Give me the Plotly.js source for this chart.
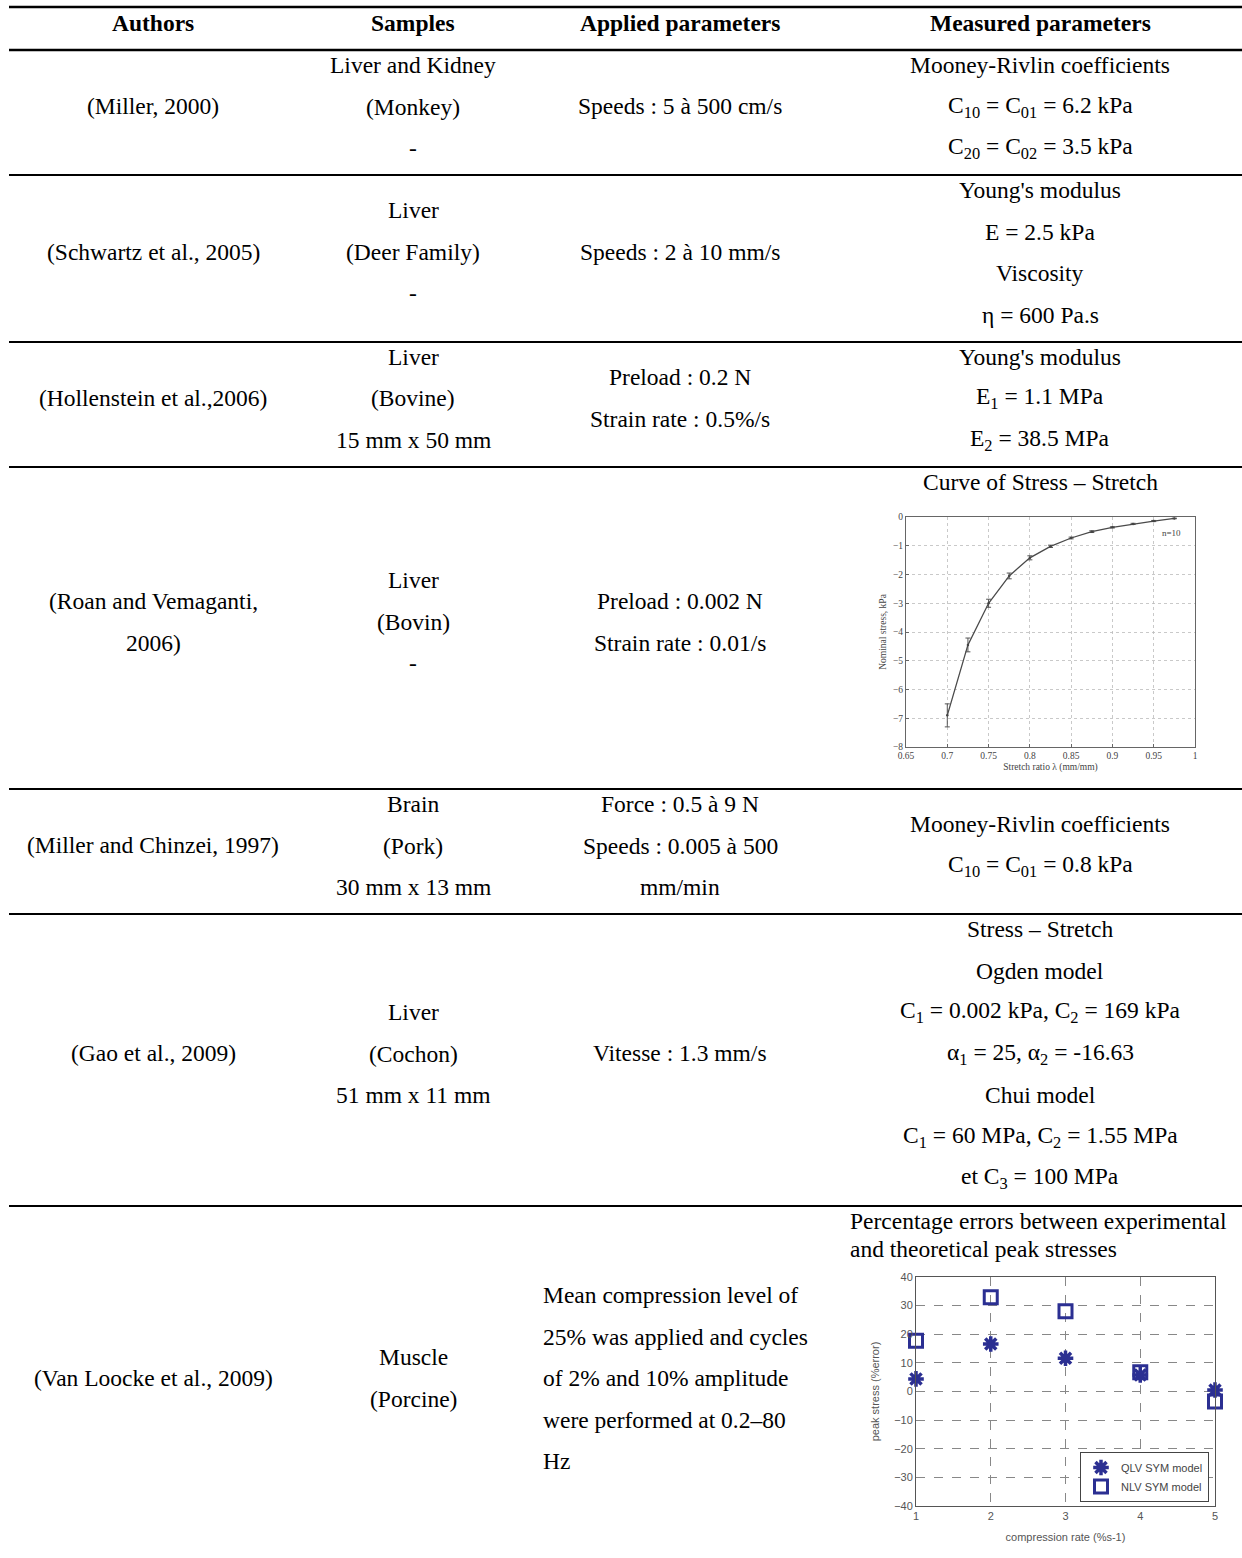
<!DOCTYPE html>
<html>
<head>
<meta charset="utf-8">
<script src="https://cdn.plot.ly/plotly-3.0.1.min.js"></script>
<style>html,body{margin:0;padding:0;background:#fff;}#chart{width:1242px;height:1558px;}</style>
</head>
<body>
<div id="chart"></div>
<script>
// ---------------- DATA ----------------
const headers = ["Authors", "Samples", "Applied parameters", "Measured parameters"];

const authors = [
  ["(Miller, 2000)"],
  ["(Schwartz et al., 2005)"],
  ["(Hollenstein et al.,2006)"],
  ["(Roan and Vemaganti,", "2006)"],
  ["(Miller and Chinzei, 1997)"],
  ["(Gao et al., 2009)"],
  ["(Van Loocke et al., 2009)"]
];
const samples = [
  ["Liver and Kidney", "(Monkey)", "-"],
  ["Liver", "(Deer Family)", "-"],
  ["Liver", "(Bovine)", "15 mm x 50 mm"],
  ["Liver", "(Bovin)", "-"],
  ["Brain", "(Pork)", "30 mm x 13 mm"],
  ["Liver", "(Cochon)", "51 mm x 11 mm"],
  ["Muscle", "(Porcine)"]
];
const applied = [
  ["Speeds : 5 à 500 cm/s"],
  ["Speeds : 2 à 10 mm/s"],
  ["Preload : 0.2 N", "Strain rate : 0.5%/s"],
  ["Preload : 0.002 N", "Strain rate : 0.01/s"],
  ["Force : 0.5 à 9 N", "Speeds : 0.005 à 500", "mm/min"],
  ["Vitesse : 1.3 mm/s"],
  ["Mean compression level of", "25% was applied and cycles", "of 2% and 10% amplitude", "were performed at 0.2–80", "Hz"]
];
const measured = [
  ["Mooney-Rivlin coefficients", "C<sub>10</sub> = C<sub>01</sub> = 6.2 kPa", "C<sub>20</sub> = C<sub>02</sub> = 3.5 kPa"],
  ["Young's modulus", "E = 2.5 kPa", "Viscosity", "η = 600 Pa.s"],
  ["Young's modulus", "E<sub>1</sub> = 1.1 MPa", "E<sub>2</sub> = 38.5 MPa"],
  ["Curve of Stress – Stretch"],
  ["Mooney-Rivlin coefficients", "C<sub>10</sub> = C<sub>01</sub> = 0.8 kPa"],
  ["Stress – Stretch", "Ogden model", "C<sub>1</sub> = 0.002 kPa, C<sub>2</sub> = 169 kPa", "α<sub>1</sub> = 25, α<sub>2</sub> = -16.63", "Chui model", "C<sub>1</sub> = 60 MPa, C<sub>2</sub> = 1.55 MPa", "et C<sub>3</sub> = 100 MPa"],
  ["Percentage errors between experimental", "and theoretical peak stresses"]
];

// Stress-stretch curve (Roan and Vemaganti, 2006)
const stretchRatio = [0.7, 0.725, 0.75, 0.775, 0.8, 0.825, 0.85, 0.875, 0.9, 0.925, 0.95, 0.975];
const nominalStress = [-6.9, -4.45, -3.0, -2.05, -1.42, -1.02, -0.73, -0.51, -0.36, -0.24, -0.14, -0.05];
const stressErr = [0.4, 0.24, 0.14, 0.1, 0.07, 0.04, 0.03, 0.03, 0.02, 0.02, 0.02, 0.01];
const curveNote = "n=10";

// Peak stress errors (Van Loocke et al., 2009)
const compressionRate = [1, 2, 3, 4, 5];
const qlvError = [4.4, 16.6, 11.6, 5.8, 0.5];
const nlvError = [17.7, 32.9, 28.0, 6.7, -3.5];
const seriesNames = ["QLV SYM model", "NLV SYM model"];

// ---------------- LAYOUT ----------------
const W = 1242, H = 1558;
const px = x => x / W;
const py = y => 1 - y / H;
const serif = "Liberation Serif, Times New Roman, serif";
const sans = "Liberation Sans, Arial, sans-serif";
const FS = 23.5;
const LH = 41.5;

const colX = [153, 413, 680, 1040];
// first-line y for each cell: [authors, samples, applied, measured]
const firstY = [
  [106, 65, 106, 65],
  [252, 210, 252, 190],
  [398, 357, 377, 357],
  [601, 580, 601, 482],
  [845, 804, 804, 824],
  [1053, 1012, 1053, 929],
  [1378, 1357, 1295, 1221]
];

const annotations = [];
headers.forEach((h, i) => {
  annotations.push({xref: 'paper', yref: 'paper', x: px(colX[i]), y: py(23), text: '<b>' + h + '</b>',
    showarrow: false, xanchor: 'center', yanchor: 'middle', font: {family: serif, size: FS, color: '#000'}});
});
const cols = [authors, samples, applied, measured];
cols.forEach((col, c) => {
  col.forEach((lines, r) => {
    lines.forEach((t, k) => {
      let x = colX[c], xa = 'center', lh = LH;
      if (r === 6 && c === 2) { x = 541; xa = 'left'; }
      if (r === 6 && c === 3) { x = 848; xa = 'left'; lh = 27.5; }
      annotations.push({xref: 'paper', yref: 'paper', x: px(x), y: py(firstY[r][c] + k * lh), text: t,
        showarrow: false, xanchor: xa, yanchor: 'middle', font: {family: serif, size: FS, color: '#000'}});
    });
  });
});
annotations.push({xref: 'x', yref: 'y', x: 0.972, y: -0.55, text: curveNote, showarrow: false,
  font: {family: serif, size: 9, color: '#444'}});

const ruleY = [[7, 2.5], [50, 2.5], [175, 2], [342, 2], [467, 2], [789, 2], [914, 2], [1206, 2]];
const shapes = ruleY.map(([y, w]) => ({type: 'line', xref: 'paper', yref: 'paper',
  x0: px(9), x1: 1, y0: py(y), y1: py(y), line: {color: '#000', width: w}}));

const traces = [
  {x: stretchRatio, y: nominalStress, xaxis: 'x', yaxis: 'y', type: 'scatter', mode: 'lines+markers',
   line: {color: '#4a4a4a', width: 1.3}, marker: {size: 2.5, color: '#444'}, showlegend: false,
   error_y: {type: 'data', array: stressErr, visible: true, color: '#555', thickness: 1, width: 2.5}},
  {x: compressionRate, y: qlvError, xaxis: 'x2', yaxis: 'y2', type: 'scatter', mode: 'markers', name: seriesNames[0],
   cliponaxis: false,
   marker: {symbol: 'asterisk-open', size: 13, color: '#2b2f92', line: {color: '#2b2f92', width: 3.5}}},
  {x: compressionRate, y: nlvError, xaxis: 'x2', yaxis: 'y2', type: 'scatter', mode: 'markers', name: seriesNames[1],
   cliponaxis: false,
   marker: {symbol: 'square-open', size: 13, color: '#2b2f92', line: {color: '#2b2f92', width: 3}}}
];

const layout = {
  width: W, height: H,
  margin: {l: 0, r: 0, t: 0, b: 0},
  paper_bgcolor: '#fff', plot_bgcolor: '#fff',
  showlegend: true,
  annotations, shapes,
  xaxis: {domain: [px(906), px(1195)], anchor: 'y', range: [0.65, 1], dtick: 0.05, tick0: 0.65,
    showgrid: true, gridcolor: '#bbb', griddash: 'dot', gridwidth: 0.8, zeroline: false,
    showline: true, mirror: true, linecolor: '#666', linewidth: 1, ticks: 'inside', ticklen: 3, tickcolor: '#666',
    tickfont: {family: serif, size: 9.5, color: '#444'},
    title: {text: 'Stretch ratio λ (mm/mm)', font: {family: serif, size: 9.5, color: '#444'}, standoff: 2}},
  yaxis: {domain: [py(747), py(517)], anchor: 'x', range: [-8, 0], dtick: 1,
    showgrid: true, gridcolor: '#bbb', griddash: 'dot', gridwidth: 0.8, zeroline: false,
    showline: true, mirror: true, linecolor: '#666', linewidth: 1, ticks: 'inside', ticklen: 3, tickcolor: '#666',
    tickfont: {family: serif, size: 9.5, color: '#444'},
    title: {text: 'Nominal stress, kPa', font: {family: serif, size: 9.5, color: '#444'}, standoff: 4}},
  xaxis2: {domain: [px(916), px(1215)], anchor: 'y2', range: [1, 5], dtick: 1,
    showgrid: true, gridcolor: '#888', griddash: 'dash', gridwidth: 1, zeroline: false,
    showline: true, mirror: true, linecolor: '#555', linewidth: 1,
    tickfont: {family: sans, size: 11, color: '#555'},
    title: {text: 'compression rate (%s-1)', font: {family: sans, size: 11, color: '#555'}, standoff: 12}},
  yaxis2: {domain: [py(1506), py(1277)], anchor: 'x2', range: [-40, 40], dtick: 10,
    showgrid: true, gridcolor: '#888', griddash: 'dash', gridwidth: 1, zeroline: false,
    showline: true, mirror: true, linecolor: '#555', linewidth: 1,
    tickfont: {family: sans, size: 11, color: '#555'},
    title: {text: 'peak stress (%error)', font: {family: sans, size: 11, color: '#555'}, standoff: 12}},
  legend: {x: px(1209), y: py(1502), xanchor: 'right', yanchor: 'bottom', bgcolor: '#fff',
    bordercolor: '#444', borderwidth: 1, font: {family: sans, size: 11, color: '#444'},
    tracegroupgap: 0, itemwidth: 30}
};

Plotly.newPlot('chart', traces, layout, {staticPlot: true, displayModeBar: false});
</script>
</body>
</html>
